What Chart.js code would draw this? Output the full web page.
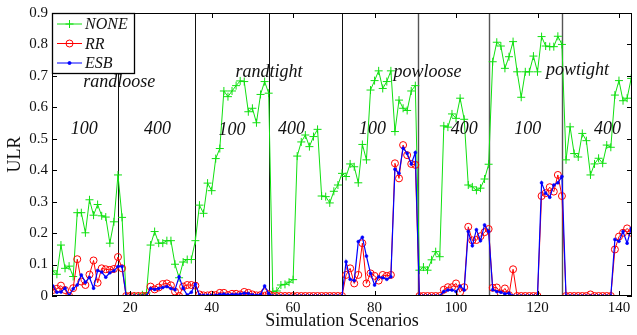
<!DOCTYPE html>
<html><head><meta charset="utf-8">
<script src="https://cdn.jsdelivr.net/npm/chart.js@4/dist/chart.umd.min.js"></script>
<style>html,body{margin:0;padding:0;background:#fff;}#wrap{width:637px;height:335px;}</style>
</head><body><div id="wrap"><canvas id="c" width="637" height="335"></canvas></div>
<script>
// ---- data ----
const scenarios = [1,2,3,4,5,6,7,8,9,10,11,12,13,14,15,16,17,18,19,20,21,22,23,24,25,26,27,28,29,30,31,32,33,34,35,36,
37,38,39,40,41,42,43,44,45,46,47,48,49,50,51,52,53,54,55,56,57,58,59,60,61,62,63,64,65,66,67,68,69,70,71,72,
73,74,75,76,77,78,79,80,81,82,83,84,85,86,87,88,89,90,91,92,93,94,95,96,97,98,99,100,101,102,103,104,105,106,107,108,
109,110,111,112,113,114,115,116,117,118,119,120,121,122,123,124,125,126,127,128,129,130,131,132,133,134,135,136,137,138,139,140,141,142,143,144];
const noneULR = [0.08,0.069,0.162,0.088,0.095,0.062,0.265,0.265,0.201,0.306,0.257,0.291,0.255,0.251,0.168,0.236,0.385,0.25,
0,0,0,0,0.004,0.01,0.162,0.205,0.168,0.168,0.176,0.176,0.101,0.058,0.108,0.116,0.116,0.176,
0.289,0.263,0.359,0.335,0.437,0.469,0.652,0.634,0.652,0.669,0.684,0.682,0.586,0.597,0.551,0.641,0.682,0.645,
0.014,0.016,0.035,0.037,0.044,0.052,0.445,0.49,0.512,0.475,0.507,0.53,0.318,0.316,0.296,0.333,0.353,0.39,
0.38,0.42,0.411,0.36,0.482,0.433,0.655,0.685,0.716,0.66,0.682,0.716,0.523,0.623,0.597,0.59,0.652,0.669,
0.082,0.092,0.082,0.115,0.141,0.125,0.541,0.537,0.579,0.565,0.629,0.562,0.353,0.347,0.336,0.343,0.372,0.419,
0.745,0.807,0.795,0.724,0.761,0.809,0.713,0.632,0.713,0.713,0.763,0.713,0.825,0.795,0.793,0.793,0.826,0.8,
0.433,0.538,0.453,0.442,0.517,0.494,0.385,0.42,0.438,0.422,0.48,0.473,0.639,0.685,0.621,0.629,0.692,0.68];
const rrULR = [0.019,0.023,0.033,0.019,0,0.025,0.117,0.046,0.035,0.068,0.113,0.042,0.088,0.085,0.083,0.086,0.124,0.088,
0,0,0,0,0,0,0.03,0.021,0.027,0.038,0.04,0.034,0.014,0,0.03,0.035,0.035,0.033,
0.005,0.002,0.002,0.004,0.003,0.01,0.01,0.003,0.007,0.007,0.005,0.013,0.01,0.005,0.002,0.003,0.012,0.006,
0,0,0,0,0,0,0,0,0,0,0,0,0,0,0,0,0,0,
0.067,0.088,0.04,0.067,0.168,0.04,0.072,0.064,0.049,0.067,0.064,0.067,0.422,0.374,0.48,0.448,0.42,0.417,
0,0,0,0,0,0,0.02,0.028,0.028,0.04,0.012,0.028,0.22,0.177,0.178,0.19,0.203,0.213,
0.026,0.027,0.008,0.024,0.003,0.085,0,0,0,0,0,0,0.318,0.327,0.346,0.332,0.385,0.318,
0,0,0,0,0,0,0.005,0,0,0,0,0,0.148,0.189,0.201,0.215,0.201,0.2];
const esbULR = [0.032,0.012,0.013,0.025,0.002,0.023,0.035,0.067,0.044,0.059,0.025,0.081,0.076,0.06,0.074,0.08,0.094,0.094,
0,0,0,0,0,0,0.024,0.021,0.024,0.027,0.03,0.024,0.02,0.061,0.025,0.003,0.012,0.038,
0.003,0.002,0.002,0.002,0.002,0.005,0.006,0.004,0.005,0.005,0.006,0.009,0.008,0.004,0.002,0.005,0.032,0.008,
0,0,0,0,0,0,0,0,0,0,0,0,0,0,0,0,0,0,
0.109,0.053,0.049,0.173,0.187,0.127,0.072,0.035,0.061,0.058,0.053,0.061,0.403,0.39,0.47,0.454,0.42,0.456,
0,0,0,0,0,0,0.014,0.019,0.019,0.014,0.032,0.019,0.205,0.16,0.211,0.176,0.226,0.205,
0.02,0.014,0.012,0.007,0.009,0,0,0,0,0,0,0,0.36,0.327,0.314,0.353,0.36,0.38,
0,0,0,0,0,0,0,0,0,0,0,0,0.18,0.174,0.205,0.168,0.215,0.21];
const seriesNames = ['NONE','RR','ESB'];
const xTicks = [20,40,60,80,100,120,140];
const yTicks = [0,0.1,0.2,0.3,0.4,0.5,0.6,0.7,0.8,0.9];
const boundaries = [17,36,54,72,90.7,108,126];
const annotationTexts = ['randloose','100','400','randtight','100','400','100','powloose','400','100','powtight','400'];

// ---- placement of annotations (data coordinates) ----
const annotationPos = [[17.3,0.681],[8.7,0.531],[26.7,0.531],[54.1,0.712],[45,0.528],[59.6,0.531],
  [79.5,0.531],[93,0.712],[102,0.531],[117.6,0.531],[129.8,0.719],[137.2,0.531]];

const serif = '"Liberation Serif","DejaVu Serif",serif';
const toPts = arr => arr.map((v,i)=>({x:scenarios[i], y:v}));

const decor = {
  id:'decor',
  beforeDatasetsDraw(chart){
    const {ctx, chartArea:a, scales:{x}} = chart;
    ctx.save();
    boundaries.forEach((b,i)=>{
      const px = Math.round(x.getPixelForValue(b))+0.5;
      ctx.strokeStyle = i>=4 ? '#555' : '#111';
      ctx.lineWidth = i>=4 ? 1.4 : 1;
      ctx.beginPath(); ctx.moveTo(px,a.top); ctx.lineTo(px,a.bottom); ctx.stroke();
    });
    ctx.restore();
  },
  afterDatasetsDraw(chart){
    const {ctx, chartArea:a, scales:{x,y}} = chart;
    ctx.save();
    // annotations
    ctx.fillStyle = '#111';
    ctx.font = 'italic 18px '+serif;
    ctx.textAlign='center'; ctx.textBaseline='middle';
    annotationTexts.forEach((t,i)=>{
      ctx.fillText(t, x.getPixelForValue(annotationPos[i][0]), y.getPixelForValue(annotationPos[i][1]));
    });
    // frame
    ctx.strokeStyle='#000'; ctx.lineWidth=1;
    ctx.strokeRect(a.left+0.5,a.top+0.5,a.right-a.left-1,a.bottom-a.top-1);
    // inward ticks
    const tl=5;
    ctx.beginPath();
    xTicks.forEach(v=>{
      const px=Math.round(x.getPixelForValue(v))+0.5;
      ctx.moveTo(px,a.bottom); ctx.lineTo(px,a.bottom-tl);
      ctx.moveTo(px,a.top); ctx.lineTo(px,a.top+tl);
    });
    yTicks.forEach(v=>{
      const py=Math.round(y.getPixelForValue(v))+0.5;
      ctx.moveTo(a.left,py); ctx.lineTo(a.left+tl,py);
      ctx.moveTo(a.right,py); ctx.lineTo(a.right-tl,py);
    });
    ctx.stroke();
    // legend
    const lx=a.left, ly=a.top, lw=83, lh=61;
    ctx.fillStyle='#fff'; ctx.fillRect(lx,ly,lw,lh);
    ctx.strokeStyle='#000'; ctx.lineWidth=1.3;
    ctx.strokeRect(lx+0.5,ly+0.5,lw-1,lh-1);
    ctx.font='italic 16px '+serif; ctx.textAlign='left'; ctx.textBaseline='middle';
    const rows=[11,30.5,50];
    chart.data.datasets.forEach((ds,i)=>{
      const yy=ly+rows[i];
      ctx.strokeStyle=ds.borderColor; ctx.lineWidth=1;
      ctx.beginPath(); ctx.moveTo(lx+5,yy); ctx.lineTo(lx+30,yy); ctx.stroke();
      ctx.fillStyle=ds.pointBackgroundColor; ctx.strokeStyle=ds.borderColor;
      Chart.helpers.drawPoint(ctx,{pointStyle:ds.pointStyle,radius:ds.pointRadius,borderWidth:1,rotation:0},lx+17.5,yy);
      ctx.fillStyle='#111';
      ctx.fillText(ds.label,lx+33,yy+1);
    });
    ctx.restore();
  }
};

new Chart(document.getElementById('c'),{
  type:'line',
  data:{datasets:[
    {label:seriesNames[0],data:toPts(noneULR),borderColor:'#10e010',backgroundColor:'#10e010',pointBackgroundColor:'#10e010',
     borderWidth:1,pointStyle:'cross',pointRadius:4,pointBorderWidth:1,tension:0,order:3},
    {label:seriesNames[1],data:toPts(rrULR),borderColor:'#ff0000',backgroundColor:'rgba(0,0,0,0)',pointBackgroundColor:'rgba(0,0,0,0)',
     borderWidth:1,pointStyle:'circle',pointRadius:3.5,pointBorderWidth:1,tension:0,order:2},
    {label:seriesNames[2],data:toPts(esbULR),borderColor:'#0000ff',backgroundColor:'#0000ff',pointBackgroundColor:'#0000ff',
     borderWidth:1.2,pointStyle:'circle',pointRadius:1.5,pointBorderWidth:0.5,tension:0,order:1}
  ]},
  options:{
    responsive:false, animation:false, devicePixelRatio:1,
    layout:{padding:{top:13,right:1,left:0,bottom:0}},
    plugins:{legend:{display:false},tooltip:{enabled:false}},
    scales:{
      x:{type:'linear',min:0.8,max:143.2,
        grid:{display:false,drawTicks:false},border:{display:false},
        afterBuildTicks:s=>{s.ticks=xTicks.map(v=>({value:v}));},
        afterFit:s=>{s.height=39;},
        ticks:{font:{family:serif,size:15},color:'#111',padding:3,maxRotation:0,autoSkip:false},
        title:{display:true,text:'Simulation Scenarios',font:{family:serif,size:18},color:'#111',padding:{top:0,bottom:3}}
      },
      y:{min:0,max:0.9,
        grid:{display:false,drawTicks:false},border:{display:false},
        afterBuildTicks:s=>{s.ticks=yTicks.map(v=>({value:v}));},
        afterFit:s=>{s.width=52;},
        ticks:{font:{family:serif,size:15},color:'#111',padding:4,callback:v=>v===0?'0':v.toFixed(1)},
        title:{display:true,text:'ULR',font:{family:serif,size:18},color:'#111',padding:{top:4,bottom:0}}
      }
    }
  },
  plugins:[decor]
});
</script></body></html>
